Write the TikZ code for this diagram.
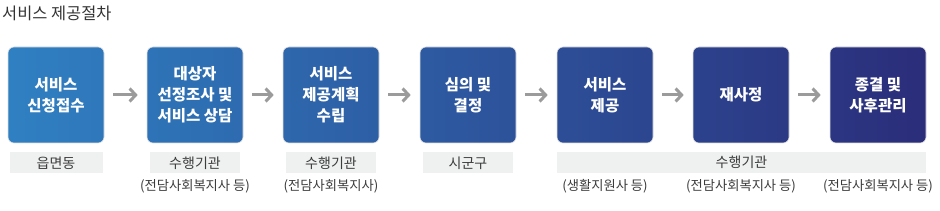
\documentclass[tikz,border=0pt]{standalone}
\usepackage{fontspec}
\setmainfont{Noto Sans CJK KR}
\usetikzlibrary{arrows.meta,positioning}
\definecolor{flowstart}{RGB}{47,128,194}
\definecolor{flowend}{RGB}{43,45,122}
\definecolor{bargray}{RGB}{239,240,240}
\definecolor{textgray}{RGB}{60,60,60}
\definecolor{arrowgray}{RGB}{155,155,155}
\begin{document}
\begin{tikzpicture}[x=1pt, y=-1pt,
    procbox/.style={minimum width=96pt, minimum height=96pt, inner sep=0pt,
        rounded corners=6pt, draw=black!12, line width=0.6pt, text=white,
        align=center, font=\fontsize{15.5}{21}\selectfont\bfseries},
    orgbar/.style={fill=bargray, minimum height=21pt, inner sep=0pt,
        text=textgray, font=\fontsize{14}{16}\selectfont},
    orgnote/.style={text=textgray, inner sep=0pt, font=\fontsize{13.3}{15}\selectfont},
    flowarrow/.style={draw=arrowgray, line width=3pt, shorten <=9pt, shorten >=9pt,
        -{Straight Barb[length=6pt, width=13pt]}}]
    \useasboundingbox (0,0) rectangle (940,211);
    % title
    \node[anchor=west, inner sep=0pt, text=black!80, font=\fontsize{16.4}{18}\selectfont] (title) at (2,13) {서비스 제공절차};
    % steps
    \foreach \i/\x/\txt in {1/8/{서비스\\신청접수}, 2/147/{대상자\\선정조사 및\\서비스 상담},
        3/283/{서비스\\제공계획\\수립}, 4/420/{심의 및\\결정}, 5/557/{서비스\\제공},
        6/693/{재사정}, 7/830/{종결 및\\사후관리}}{
        \pgfmathsetmacro{\pl}{(\x-8)/918*100}
        \pgfmathsetmacro{\pr}{(\x+96-8)/918*100}
        \node[procbox, left color=flowend!\pl!flowstart, right color=flowend!\pr!flowstart]
            (box\i) at (\x+48,95) {\txt};
    }
    % arrows
    \foreach \i [count=\j from 2] in {1,...,6}
        \path[flowarrow] (box\i) -- (box\j);
    % who does it
    \coordinate (noteline) at (0,186);
    \node[orgbar, minimum width=93pt, below=9pt of box1] (bar1) {읍면동};
    \node[orgbar, minimum width=90pt, below=9pt of box2] (bar2) {수행기관};
    \node[orgbar, minimum width=90pt, below=9pt of box3] (bar3) {수행기관};
    \node[orgbar, minimum width=90pt, below=9pt of box4] (bar4) {시군구};
    \node[orgbar, minimum width=369pt] (bar5) at (741.5,162.5) {수행기관};
    \node[orgnote] (note2) at (box2 |- noteline) {(전담사회복지사 등)};
    \node[orgnote] (note3) at (box3 |- noteline) {(전담사회복지사)};
    \node[orgnote] (note5) at (box5 |- noteline) {(생활지원사 등)};
    \node[orgnote] (note6) at (box6 |- noteline) {(전담사회복지사 등)};
    \node[orgnote] (note7) at (box7 |- noteline) {(전담사회복지사 등)};
\end{tikzpicture}
\end{document}
